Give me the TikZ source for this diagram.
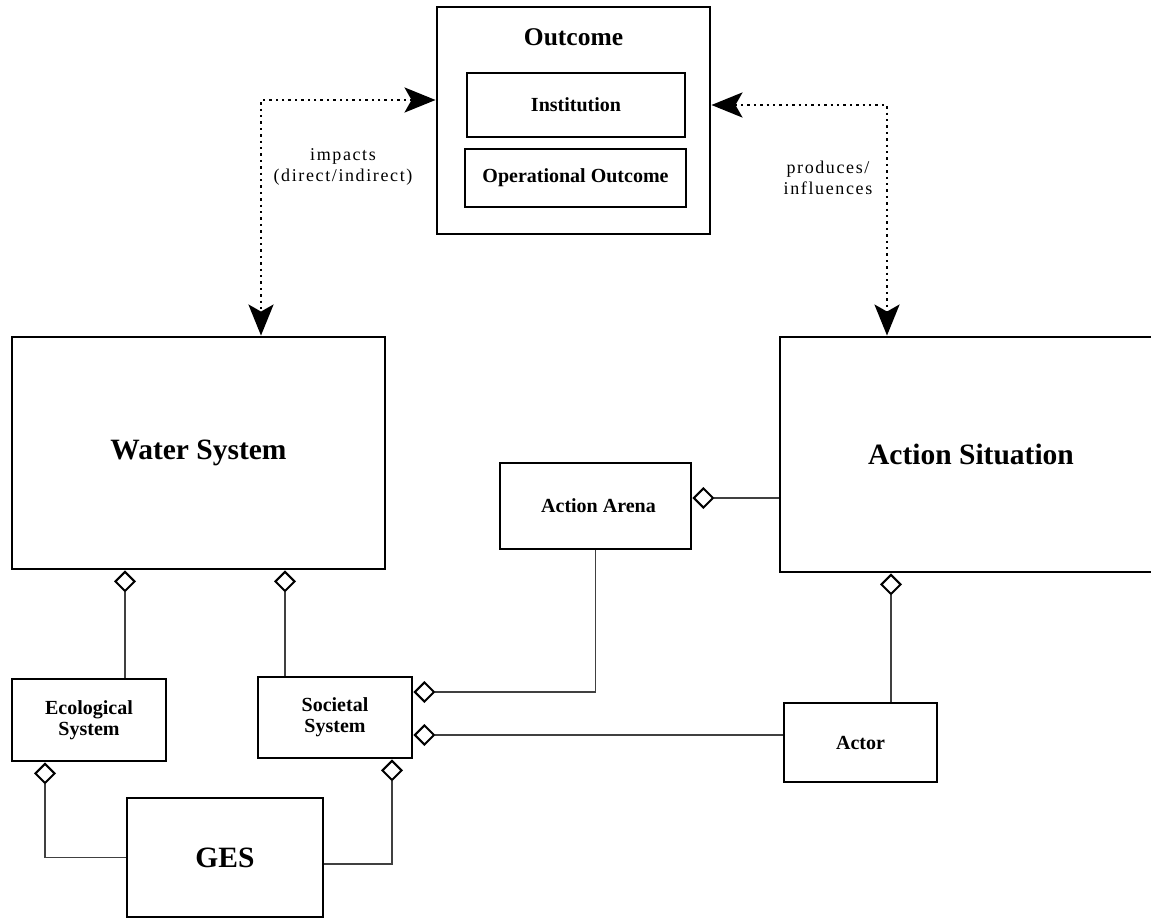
\documentclass[tikz,border=0pt]{standalone}
\usepackage{fontspec}
\setmainfont{Liberation Serif}
\usetikzlibrary{arrows.meta}

\begin{document}
\begin{tikzpicture}[x=1pt,y=-1pt,
  box/.style={draw=black, line width=2.9pt, fill=white, inner sep=0pt, align=center, font=\bfseries\fontsize{20}{21}\selectfont},
  bigbox/.style={box, font=\bfseries\fontsize{29.5}{33}\selectfont},
  agg/.style={draw=black!75, line width=1.3pt,
    -{Diamond[open, length=22pt, width=22pt, line width=2pt, color=black]}},
  rel/.style={line width=2.6pt, dash pattern=on 2.4pt off 4pt,
    {Stealth[length=31pt, width=25pt, inset=7pt]}-{Stealth[length=31pt, width=25pt, inset=7pt]}},
  lbl/.style={align=center, font=\fontsize{18}{21}\selectfont\addfontfeature{LetterSpace=9}}
]
\useasboundingbox (0,0) rectangle (1151,918);

% outcome group
\node[box, minimum width=273pt, minimum height=227pt] (outcome) at (573.5,120.5) {};
\node[font=\bfseries\fontsize{25.5}{28}\selectfont] (outcomeT) at (573.5,37) {Outcome};
\node[box, minimum width=218pt, minimum height=64pt] (inst) at (576,105) {Institution};
\node[box, minimum width=221pt, minimum height=58pt] (oper) at (575.5,178) {Operational Outcome};

% main systems
\node[bigbox, minimum width=373pt, minimum height=232pt] (water) at (198.5,453) {Water System};
\node[bigbox, minimum width=382pt, minimum height=235pt] (as) at (971,454.5) {Action Situation};

% components
\node[box, minimum width=191pt, minimum height=86pt] (arena) at (595.5,506) {\hspace*{6pt}Action Arena};
\node[box, minimum width=154pt, minimum height=82pt] (eco) at (89,720) {Ecological\\System};
\node[box, minimum width=154pt, minimum height=81pt] (soc) at (335,717.5) {Societal\\System};
\node[bigbox, minimum width=196pt, minimum height=119pt] (ges) at (225,857.5) {GES};
\node[box, minimum width=153pt, minimum height=79pt] (actor) at (860.5,742.5) {Actor};

% relation labels
\node[lbl] (lblL) at (343,167) {impacts\\(direct/indirect)};
\node[lbl] (lblR) at (828,178) {produces/\\influences};

% dotted relations to the outcome
\draw[rel] ([yshift=20.5pt]outcome.west) -| ([xshift=62.5pt]water.north);
\draw[rel] ([yshift=15.5pt]outcome.east) -| ([xshift=-84pt]as.north);

% aggregations
\draw[agg] ([xshift=36pt]eco.north) -- ([xshift=36pt]eco.north |- water.south);
\draw[agg] ([xshift=-50pt]soc.north) -- ([xshift=-50pt]soc.north |- water.south);
\draw[agg] (ges.west) -| ([xshift=-44pt]eco.south);
\draw[agg] ([yshift=-6.5pt]ges.east) -| ([xshift=57pt]soc.south);
\draw[agg] (arena.south) |- ([yshift=25.5pt]soc.east);
\draw[agg] ([yshift=7.5pt]actor.west) -- ([yshift=7.5pt]actor.west -| soc.east);
\draw[agg] ([yshift=8pt]arena.east -| as.west) -- ([yshift=8pt]arena.east);
\draw[agg] ([xshift=30.5pt]actor.north) -- ([xshift=30.5pt]actor.north |- as.south);
\end{tikzpicture}
\end{document}
